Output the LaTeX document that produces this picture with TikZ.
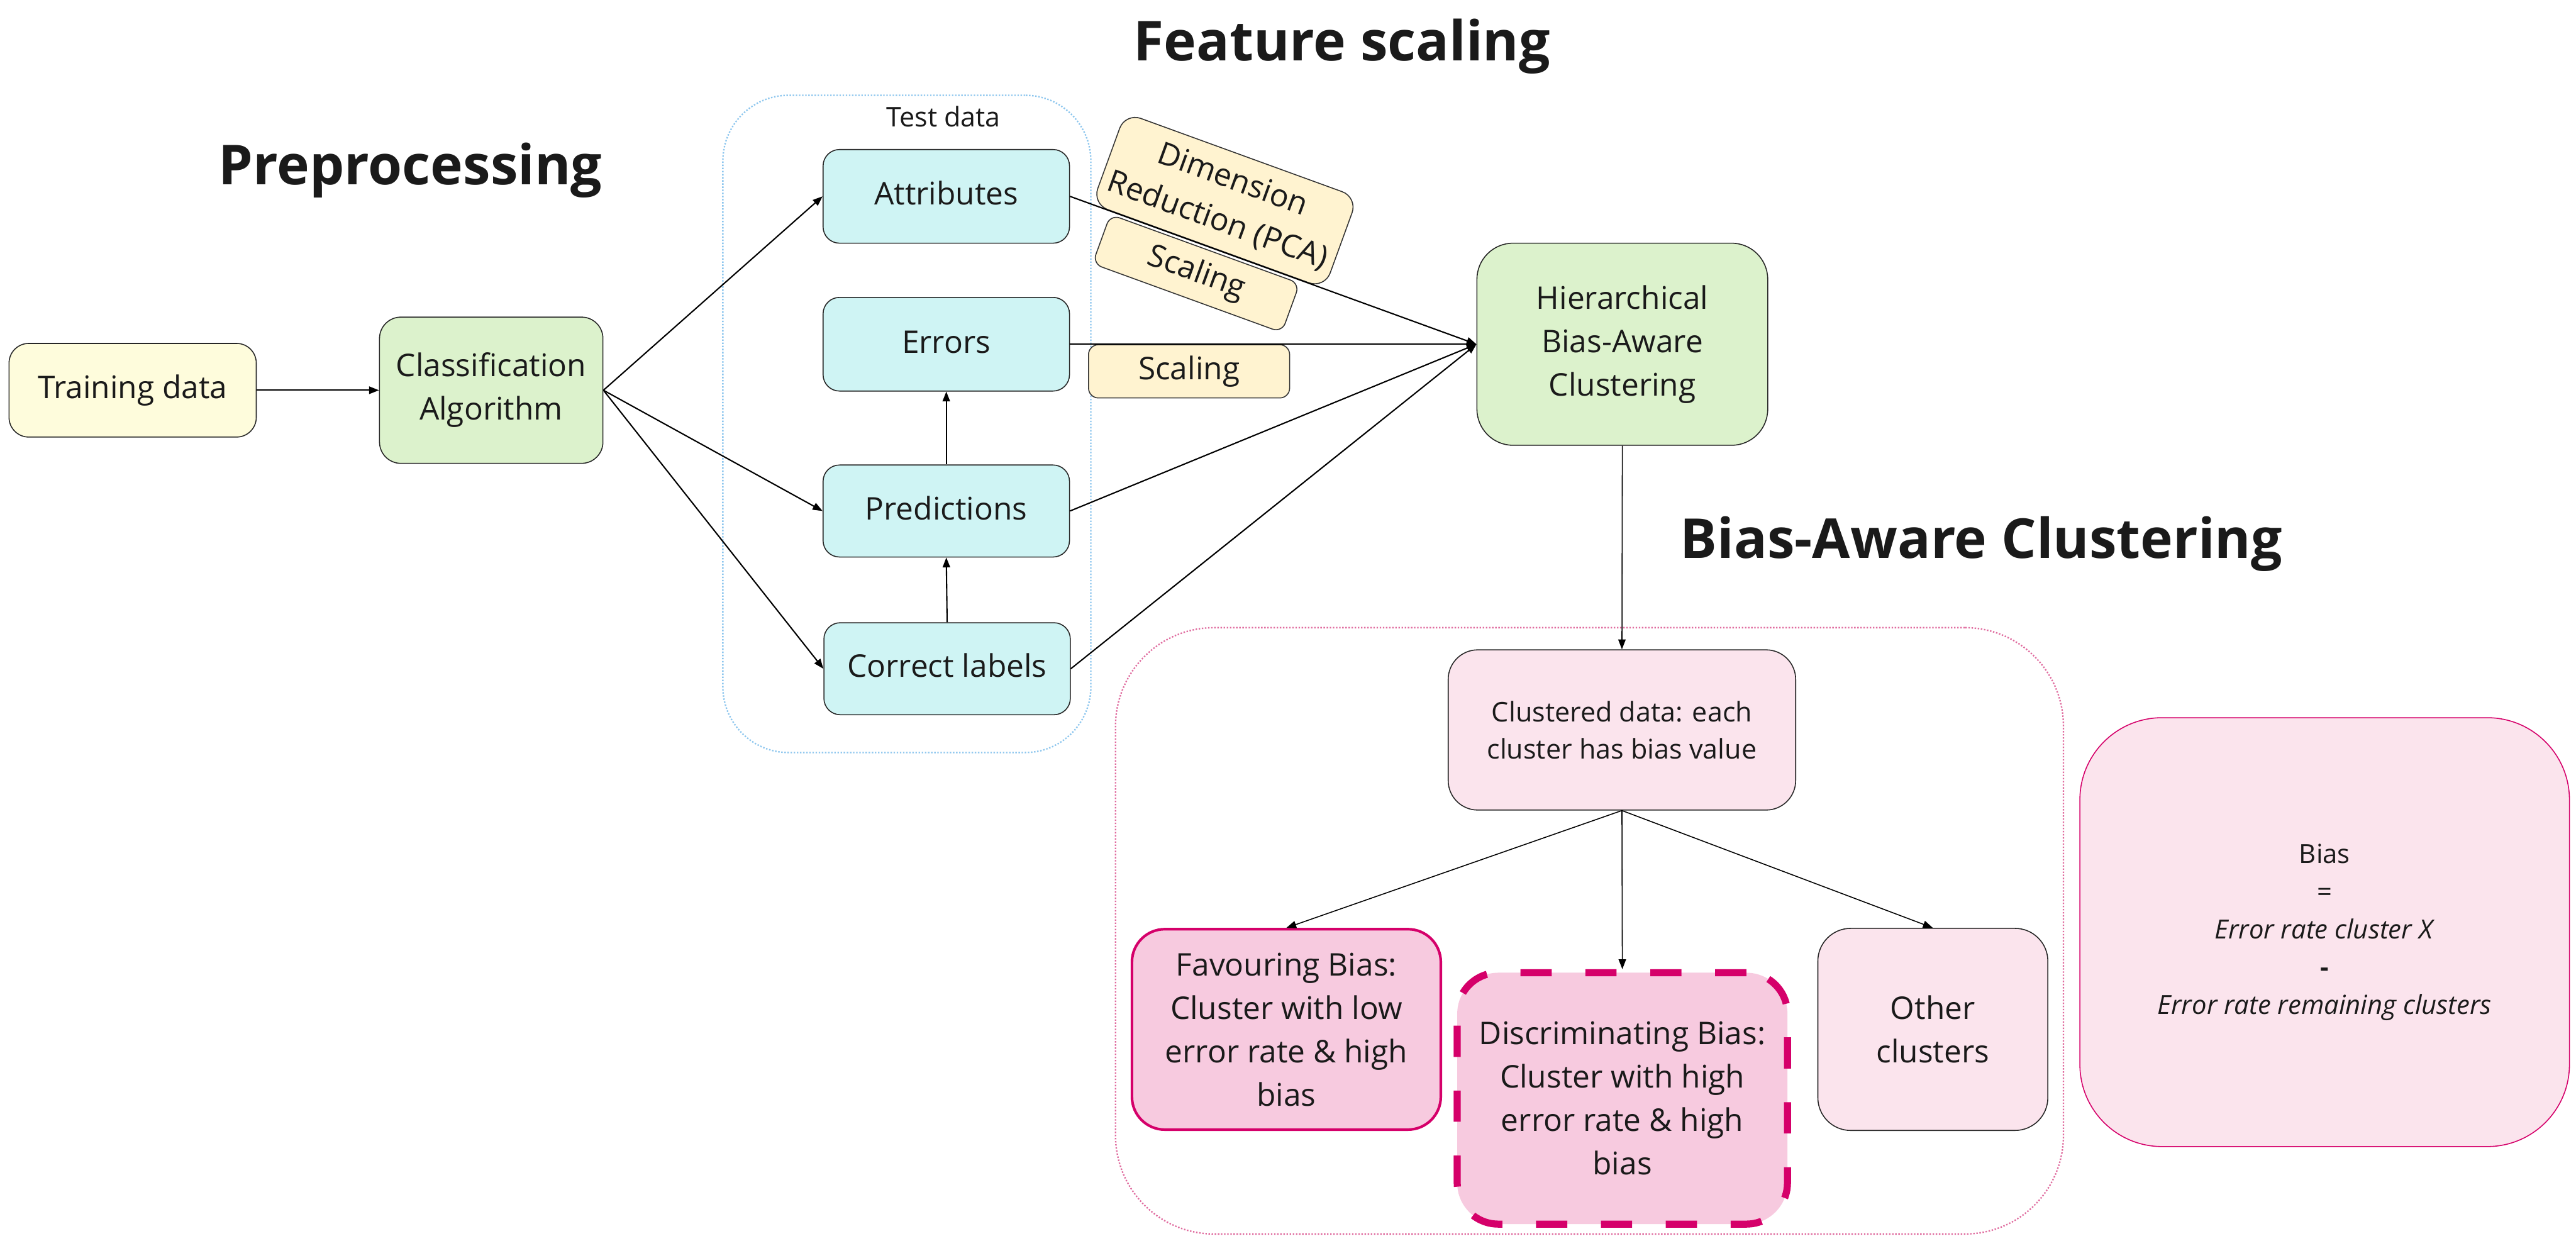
\documentclass[tikz,border=0pt]{standalone}
\usepackage{fontspec}
\setmainfont{Open Sans}
\usetikzlibrary{arrows.meta}
\definecolor{cyellow}{HTML}{FEFCDC}
\definecolor{cgreen}{HTML}{DCF2CC}
\definecolor{ccyan}{HTML}{CFF4F4}
\definecolor{clabel}{HTML}{FFF3D0}
\definecolor{cpinkl}{HTML}{FBE4ED}
\definecolor{cpinkm}{HTML}{F7CADF}
\definecolor{cmag}{HTML}{D5006A}
\definecolor{cblue}{HTML}{8CC6EE}
\definecolor{cpinkdot}{HTML}{E06C9F}
\definecolor{ctext}{HTML}{1A1A1A}
\tikzset{
  nd/.style={draw=black!85, line width=0.6pt, align=center, inner sep=0pt, text=ctext,
             font=\fontsize{19}{26.4}\selectfont},
  lbl/.style={draw=black!80, line width=0.6pt, fill=clabel, align=center, inner sep=0pt,
              text=ctext, font=\fontsize{19}{26.4}\selectfont},
  ttl/.style={anchor=base, text=ctext, font=\fontsize{33.5}{40}\selectfont\bfseries},
  conn/.style={line width=0.8pt, -{Triangle[length=6pt,width=4.5pt]}},
  connthin/.style={line width=0.6pt, -{Triangle[length=6pt,width=4.5pt]}}
}
\begin{document}
\begin{tikzpicture}[x=1pt,y=-1pt]
\useasboundingbox[fill=white] (0,0) rectangle (1568,755);

% containers
\node[draw=cblue, densely dotted, line width=0.9pt, rounded corners=40pt,
      minimum width=224pt, minimum height=400pt, inner sep=0pt] (testc) at (552,258) {};
\node[anchor=base, text=ctext, font=\fontsize{16.5}{20}\selectfont] (testlbl) at (574.3,77) {Test data};
\node[draw=cpinkdot, densely dotted, line width=0.9pt, rounded corners=60pt,
      minimum width=577pt, minimum height=369pt, inner sep=0pt] (clustc) at (967.5,566.5) {};

% titles
\node[ttl] (tfeat) at (816.8,37) {Feature scaling};
\node[ttl] (tpre) at (249.8,112.2) {Preprocessing};
\node[ttl] (tbac) at (1206,339.8) {Bias-Aware Clustering};

% main nodes
\node[nd, fill=cyellow, rounded corners=12pt, minimum width=150.5pt, minimum height=57pt] (train) at (80.75,237.5) {Training data};
\node[nd, fill=cgreen, rounded corners=13pt, minimum width=136pt, minimum height=89pt] (cls) at (299,237.5) {Classification\\Algorithm};
\node[nd, fill=ccyan, rounded corners=10pt, minimum width=150pt, minimum height=57pt] (attr) at (576,119.5) {Attributes\strut};
\node[nd, fill=ccyan, rounded corners=10pt, minimum width=150pt, minimum height=57pt] (err) at (576,209.5) {Errors\strut};
\node[nd, fill=ccyan, rounded corners=10pt, minimum width=150pt, minimum height=56pt] (pred) at (576,311) {Predictions\strut};
\node[nd, fill=ccyan, rounded corners=10pt, minimum width=150pt, minimum height=56pt] (corr) at (576.5,407) {Correct labels\strut};
\node[nd, fill=cgreen, rounded corners=22pt, minimum width=177pt, minimum height=123pt] (hier) at (987.5,209.5) {Hierarchical\\Bias-Aware\\Clustering};

% cluster section
\node[nd, fill=cpinkl, rounded corners=18pt, minimum width=211.5pt, minimum height=97.5pt,
      font=\fontsize{16.5}{22.5}\selectfont] (clus) at (987.25,444.25) {Clustered data: each\\cluster has bias value};
\node[nd, draw=cmag, line width=1.6pt, fill=cpinkm, rounded corners=20pt, minimum width=188pt, minimum height=122pt] (fav) at (783,626.5) {Favouring Bias:\\Cluster with low\\error rate \& high\\bias};
\node[nd, draw=cmag, line width=4.3pt, dash pattern=on 19pt off 20.5pt, fill=cpinkm, rounded corners=25pt, minimum width=201pt, minimum height=153pt] (disc) at (987.5,668.5) {Discriminating Bias:\\Cluster with high\\error rate \& high\\bias};
\node[nd, fill=cpinkl, rounded corners=20pt, minimum width=140pt, minimum height=123pt] (other) at (1176.5,626.5) {Other\\clusters};
\node[nd, draw=cmag, fill=cpinkl, rounded corners=50pt, minimum width=298pt, minimum height=261pt,
      font=\fontsize{16}{23}\selectfont] (biasbox) at (1415,567.3)
  {Bias\\=\\\textit{Error rate cluster X}\\\textbf{-}\\\textit{Error rate remaining clusters}};

% scaling labels
\path (attr.east) -- node[lbl, sloped, pos=0.34, anchor=south, rounded corners=10pt,
      minimum width=150.5pt, minimum height=59pt] (dimred) {Dimension\\Reduction (PCA)}
  node[lbl, sloped, pos=0.335, anchor=north, outer sep=2pt, rounded corners=6pt,
      minimum width=122.6pt, minimum height=31.8pt] (scal1) {Scaling} (hier.west);
\path (err.east) -- node[lbl, pos=0.293, anchor=north, rounded corners=6pt,
      minimum width=122.4pt, minimum height=32.4pt] (scal2) {Scaling} (hier.west);

% connectors
\draw[conn] (train.east) -- (cls.west);
\draw[conn] (cls.east) -- (attr.west);
\draw[conn] (cls.east) -- (pred.west);
\draw[conn] (cls.east) -- (corr.west);
\draw[conn] (pred.north) -- (err.south);
\draw[conn] (corr.north) -- (pred.south);
\draw[conn] (attr.east) -- (hier.west);
\draw[conn] (err.east) -- (hier.west);
\draw[conn] (pred.east) -- (hier.west);
\draw[conn] (corr.east) -- (hier.west);
\draw[connthin] (hier.south) -- (clus.north);
\draw[connthin] (clus.south) -- (fav.north);
\draw[connthin] (clus.south) -- (disc.north);
\draw[connthin] (clus.south) -- (other.north);
\end{tikzpicture}
\end{document}
